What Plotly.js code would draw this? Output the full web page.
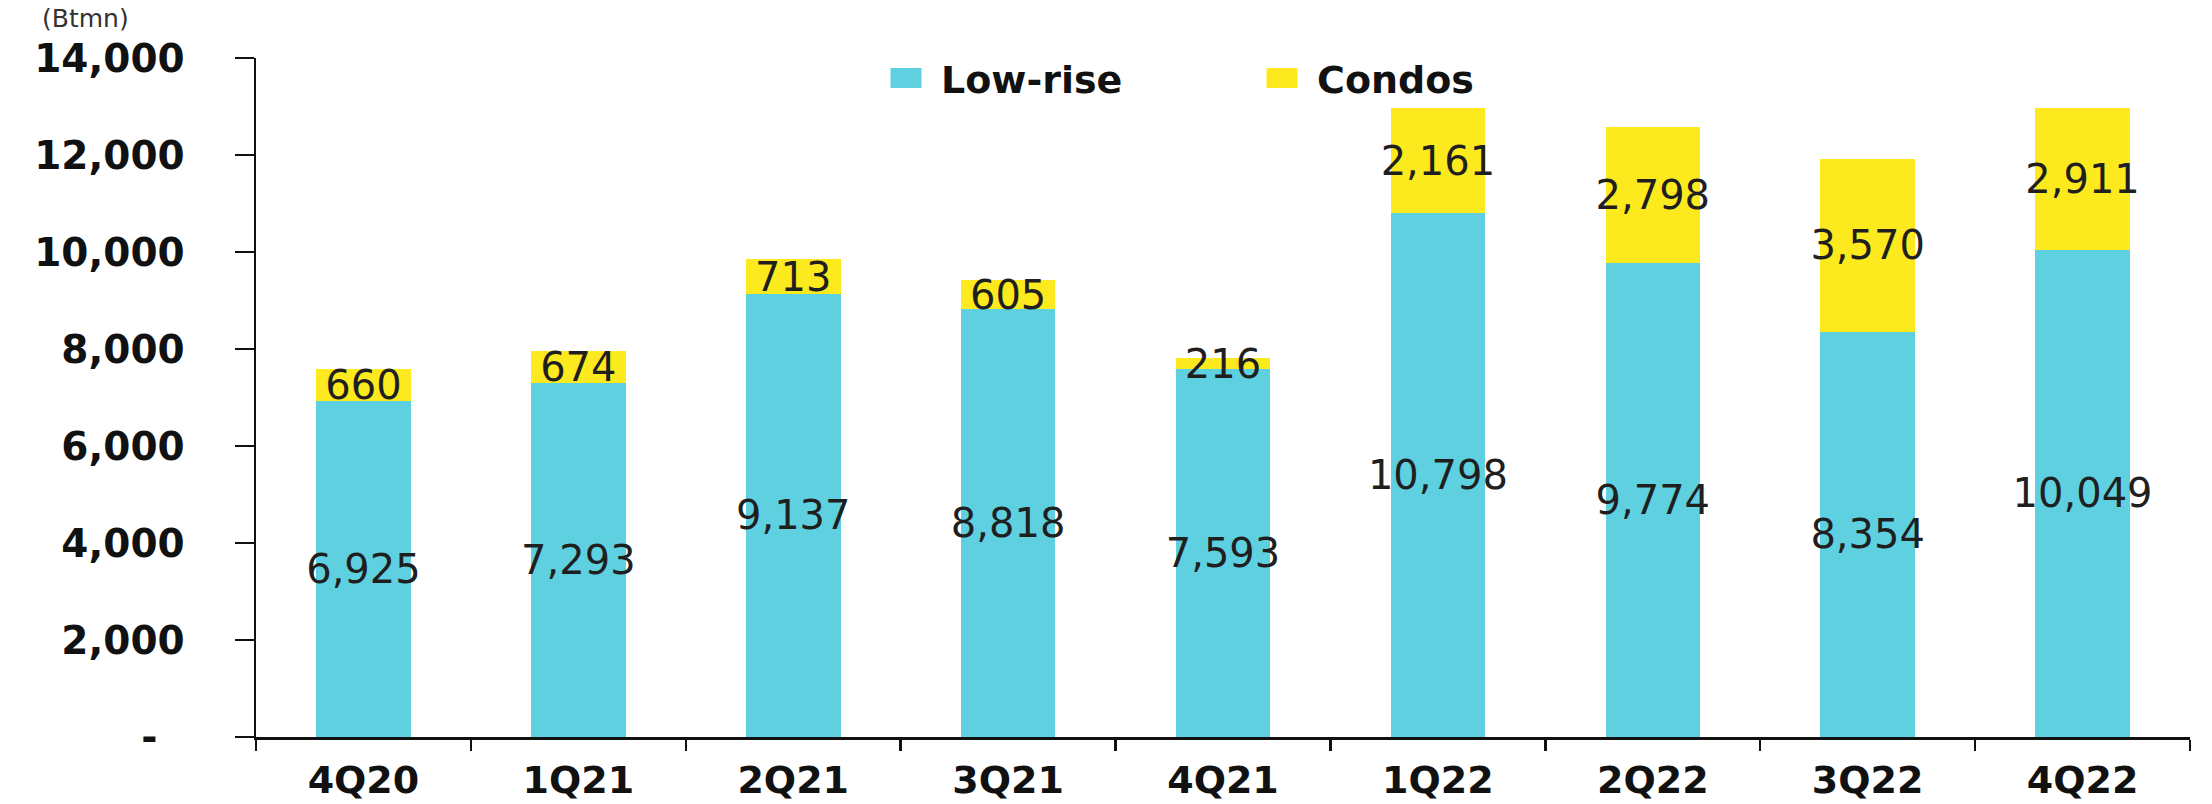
<!DOCTYPE html>
<html>
<head>
<meta charset="utf-8">
<script src="https://cdn.plot.ly/plotly-3.0.1.min.js"></script>
<style>
  html, body { margin: 0; padding: 0; background: #ffffff; }
  #chart { width: 2212px; height: 804px; }
</style>
</head>
<body>
<div id="chart"></div>
<script>
const categories = ['4Q20', '1Q21', '2Q21', '3Q21', '4Q21', '1Q22', '2Q22', '3Q22', '4Q22'];
const lowRise = [6925, 7293, 9137, 8818, 7593, 10798, 9774, 8354, 10049];
const condos = [660, 674, 713, 605, 216, 2161, 2798, 3570, 2911];
const yTickVals = [0, 2000, 4000, 6000, 8000, 10000, 12000, 14000];
const yTickText = ['-\u00a0\u00a0', '2,000', '4,000', '6,000', '8,000', '10,000', '12,000', '14,000'];

const FONT = 'DejaVu Sans, Verdana, sans-serif';
const labelFont = { family: FONT, size: 40, color: '#1f1f1f' };

const common = {
  type: 'bar',
  x: categories,
  texttemplate: '%{y:,.0f}',
  textposition: 'inside',
  insidetextanchor: 'middle',
  textangle: 0,
  constraintext: 'none',
  textfont: labelFont,
  hoverinfo: 'skip'
};

const traces = [
  Object.assign({}, common, {
    name: 'Low-rise',
    y: lowRise,
    marker: { color: '#5ed0e0', line: { width: 0 } }
  }),
  Object.assign({}, common, {
    name: 'Condos',
    y: condos,
    marker: { color: '#fcea1e', line: { width: 0 } }
  })
];

const layout = {
  width: 2212,
  height: 804,
  margin: { l: 256, r: 22, t: 58, b: 67, pad: 0 },
  paper_bgcolor: '#ffffff',
  plot_bgcolor: '#ffffff',
  barmode: 'stack',
  bargap: 0.56,
  showlegend: true,
  legend: {
    orientation: 'h',
    traceorder: 'normal',
    x: 0.318,
    xanchor: 'left',
    y: 0.97,
    yanchor: 'middle',
    itemwidth: 60,
    font: { family: FONT, size: 38, color: '#111111', weight: 'bold' },
    entrywidth: 301,
    bgcolor: 'rgba(0,0,0,0)'
  },
  xaxis: {
    type: 'category',
    tickson: 'boundaries',
    ticks: 'outside',
    ticklen: 11,
    tickwidth: 2.5,
    tickcolor: '#111111',
    showline: true,
    linecolor: '#111111',
    linewidth: 2.5,
    showgrid: false,
    zeroline: false,
    ticklabelstandoff: 8,
    tickfont: { family: FONT, size: 38, color: '#111111', weight: 'bold' }
  },
  yaxis: {
    range: [0, 14000],
    tickvals: yTickVals,
    ticktext: yTickText,
    ticks: 'outside',
    ticklen: 19,
    tickwidth: 2.5,
    tickcolor: '#111111',
    showline: true,
    linecolor: '#111111',
    linewidth: 2.5,
    showgrid: false,
    zeroline: false,
    ticklabelstandoff: 42,
    tickfont: { family: FONT, size: 39, color: '#111111', weight: 'bold' }
  },
  annotations: [
    {
      text: '(Btmn)',
      xref: 'paper', yref: 'paper',
      x: -0.0884, y: 1.0335,
      xanchor: 'center', yanchor: 'bottom',
      showarrow: false,
      font: { family: FONT, size: 25, color: '#333333' }
    }
  ]
};

Plotly.newPlot('chart', traces, layout, { displayModeBar: false, staticPlot: true }).then(function () {
  document.querySelectorAll('.legend .legendpoints path').forEach(function (p) {
    p.setAttribute('d', 'M15.5,10H-15.5V-10H15.5Z');
  });
});
</script>
</body>
</html>
